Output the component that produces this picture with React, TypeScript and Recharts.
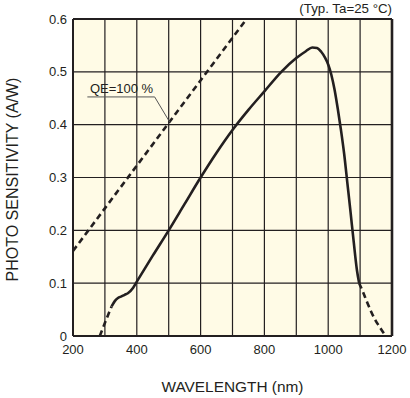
import React from 'react';
import {
  LineChart,
  Line,
  XAxis,
  YAxis,
  CartesianGrid,
  ReferenceLine,
  ReferenceDot,
  Label,
} from 'recharts';

const wavelengthTicks = [200, 300, 400, 500, 600, 700, 800, 900, 1000, 1100, 1200];
const sensitivityTicks = [0, 0.1, 0.2, 0.3, 0.4, 0.5, 0.6];

// QE = 100 % reference line
const qeLine = [
  { x: 200, y: 0.161 },
  { x: 744, y: 0.6 },
];

// Dashed beginning of the spectral response
const curveStart = [
  { x: 284, y: 0 },
  { x: 302, y: 0.028 },
  { x: 321, y: 0.056 },
];

// Solid spectral response
const curveMain = [
  { x: 321, y: 0.056 },
  { x: 331, y: 0.066 },
  { x: 341, y: 0.072 },
  { x: 352, y: 0.075 },
  { x: 362, y: 0.078 },
  { x: 372, y: 0.081 },
  { x: 388, y: 0.091 },
  { x: 400, y: 0.103 },
  { x: 450, y: 0.152 },
  { x: 500, y: 0.2 },
  { x: 550, y: 0.25 },
  { x: 600, y: 0.3 },
  { x: 650, y: 0.347 },
  { x: 700, y: 0.39 },
  { x: 750, y: 0.428 },
  { x: 800, y: 0.463 },
  { x: 853, y: 0.5 },
  { x: 900, y: 0.526 },
  { x: 930, y: 0.539 },
  { x: 950, y: 0.546 },
  { x: 965, y: 0.545 },
  { x: 978, y: 0.538 },
  { x: 990, y: 0.527 },
  { x: 1000, y: 0.514 },
  { x: 1010, y: 0.494 },
  { x: 1020, y: 0.466 },
  { x: 1030, y: 0.43 },
  { x: 1040, y: 0.39 },
  { x: 1050, y: 0.345 },
  { x: 1060, y: 0.29 },
  { x: 1070, y: 0.235 },
  { x: 1080, y: 0.178 },
  { x: 1090, y: 0.125 },
  { x: 1097, y: 0.1 },
];

// Dashed tail of the spectral response
const curveTail = [
  { x: 1097, y: 0.1 },
  { x: 1110, y: 0.082 },
  { x: 1122, y: 0.064 },
  { x: 1134, y: 0.047 },
  { x: 1146, y: 0.032 },
  { x: 1158, y: 0.02 },
  { x: 1170, y: 0.009 },
  { x: 1178, y: 0.002 },
];

// Annotation leader for "QE=100 %"
const qeLeader = [
  { x: 245, y: 0.4525 },
  { x: 456, y: 0.4525 },
  { x: 503, y: 0.405 },
];
const qeLabelAnchor = { x: 253, y: 0.468, text: 'QE=100 %' };

const titleText = '(Typ. Ta=25 °C)';
const xTitle = 'WAVELENGTH (nm)';
const yTitle = 'PHOTO SENSITIVITY (A/W)';

const INK = '#231f20';
const FONT = '"Liberation Sans", Arial, Helvetica, sans-serif';

export default function App() {
  return (
    <div style={{ position: 'absolute', left: 0, top: 0, width: 410, height: 398, background: '#ffffff' }}>
      <LineChart
        width={410}
        height={398}
        margin={{ top: 19, right: 18, bottom: 0, left: 0 }}
        style={{ fontFamily: FONT }}
      >
        <CartesianGrid stroke={INK} strokeWidth={1.2} fill="#fffbe6" fillOpacity={1} />
        <XAxis
          type="number"
          dataKey="x"
          domain={[200, 1200]}
          ticks={wavelengthTicks}
          interval={0}
          tickFormatter={(v: number) => (v % 200 === 0 ? String(v) : '')}
          axisLine={false}
          tickLine={false}
          tickSize={0}
          tickMargin={9}
          height={62}
          tick={{ fill: INK, fontSize: 13, fontFamily: FONT }}
          allowDataOverflow
        >
          <Label
            value={xTitle}
            position="insideBottom"
            offset={6}
            style={{ fill: INK, fontSize: 15.4, fontFamily: FONT }}
          />
        </XAxis>
        <YAxis
          type="number"
          dataKey="y"
          domain={[0, 0.6]}
          ticks={sensitivityTicks}
          interval={0}
          tickFormatter={(v: number) => (v === 0 ? '0' : v.toFixed(1))}
          axisLine={false}
          tickLine={false}
          tickSize={0}
          tickMargin={6}
          width={73}
          tick={{ fill: INK, fontSize: 13, fontFamily: FONT }}
          allowDataOverflow
        >
          <Label
            value={yTitle}
            angle={-90}
            position="insideLeft"
            offset={12}
            dy={2}
            style={{ fill: INK, fontSize: 16, fontFamily: FONT, textAnchor: 'middle' }}
          />
        </YAxis>

        <Line
          data={qeLine}
          dataKey="y"
          type="linear"
          stroke={INK}
          strokeWidth={2.6}
          strokeDasharray="6 4"
          dot={false}
          isAnimationActive={false}
        />
        <Line
          data={qeLeader}
          dataKey="y"
          type="linear"
          stroke="#555"
          strokeWidth={1}
          dot={false}
          isAnimationActive={false}
        />
        <Line
          data={curveStart}
          dataKey="y"
          type="linear"
          stroke={INK}
          strokeWidth={2.6}
          strokeDasharray="6 4"
          dot={false}
          isAnimationActive={false}
        />
        <Line
          data={curveMain}
          dataKey="y"
          type="monotone"
          stroke={INK}
          strokeWidth={2.6}
          dot={false}
          isAnimationActive={false}
        />
        <Line
          data={curveTail}
          dataKey="y"
          type="monotone"
          stroke={INK}
          strokeWidth={2.6}
          strokeDasharray="6 4"
          dot={false}
          isAnimationActive={false}
        />

        <ReferenceDot
          x={qeLabelAnchor.x}
          y={qeLabelAnchor.y}
          r={0}
          fill="none"
          stroke="none"
          label={{
            value: qeLabelAnchor.text,
            position: 'right',
            offset: 0,
            style: { fill: INK, fontSize: 13, fontFamily: FONT },
          }}
        />
        <ReferenceDot
          x={1200}
          y={0.6}
          r={0}
          fill="none"
          stroke="none"
          ifOverflow="visible"
          label={{
            value: titleText,
            position: 'top',
            offset: 6,
            style: { fill: INK, fontSize: 13.3, fontFamily: FONT, textAnchor: 'end' },
          }}
        />

        <ReferenceLine x={200} stroke={INK} strokeWidth={2} ifOverflow="visible" />
        <ReferenceLine x={1200} stroke={INK} strokeWidth={2.6} ifOverflow="visible" />
        <ReferenceLine y={0} stroke={INK} strokeWidth={2} ifOverflow="visible" />
        <ReferenceLine y={0.6} stroke={INK} strokeWidth={2} ifOverflow="visible" />
      </LineChart>
    </div>
  );
}
